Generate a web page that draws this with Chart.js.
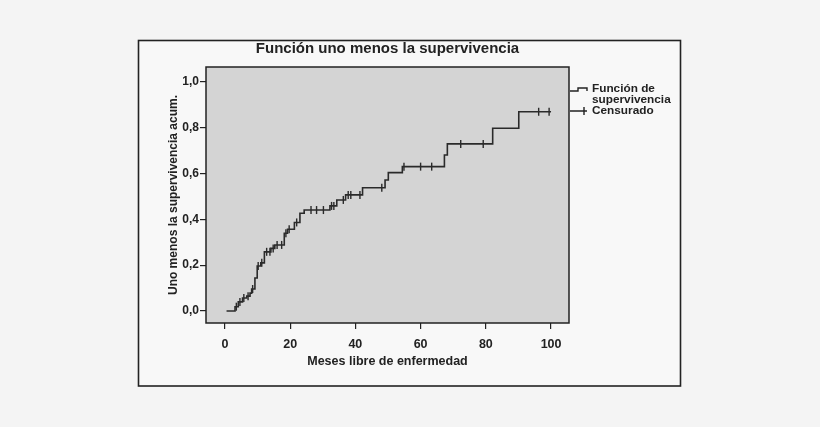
<!DOCTYPE html>
<html lang="es">
<head>
<meta charset="utf-8">
<title>Función uno menos la supervivencia</title>
<script src="https://cdn.jsdelivr.net/npm/chart.js@4.4.1/dist/chart.umd.min.js"></script>
<style>
  html, body { margin: 0; padding: 0; background: #f4f4f4; }
  #wrap { width: 820px; height: 427px; position: relative; }
</style>
</head>
<body>
<div id="wrap"><canvas id="chartKM"></canvas></div>
<script>
// ===== データ =====
// curva escalonada (tiempo del evento, valor tras el salto)
const curveTimes  = [0.5, 3.1, 4.1, 5.4, 6.7, 7.7, 8.2, 9.2, 9.9, 11.0, 12.1, 14.1, 15.3, 18.2, 19.2, 21.3, 23.0, 24.3,
                     32.2, 34.3, 37.0, 42.2, 49.1, 50.1, 54.4, 67.3, 68.2, 82.1, 90.1, 100];
const curveValues = [0, 0.019, 0.04, 0.057, 0.065, 0.078, 0.096, 0.144, 0.196, 0.21, 0.258, 0.273, 0.288, 0.339, 0.356,
                     0.386, 0.426, 0.44, 0.458, 0.484, 0.506, 0.537, 0.571, 0.603, 0.629, 0.68, 0.728, 0.796, 0.868, 0.868];

// casos censurados
const censorTimes  = [3.5, 4.6, 5.8, 7.1, 8.5, 10.2, 11.3, 12.8, 13.8, 14.8, 16.0, 17.4, 18.7, 19.7, 22.0, 26.4, 28.1,
                      30.2, 32.7, 33.4, 36.3, 37.8, 38.6, 41.4, 48.1, 54.9, 60.0, 63.4, 72.3, 79.2, 96.2, 99.4];
const censorValues = [0.019, 0.04, 0.057, 0.065, 0.096, 0.196, 0.21, 0.258, 0.258, 0.273, 0.288, 0.288, 0.339, 0.356,
                      0.386, 0.44, 0.44, 0.44, 0.458, 0.458, 0.484, 0.506, 0.506, 0.506, 0.537, 0.629, 0.629, 0.629,
                      0.728, 0.728, 0.868, 0.868];

const xTicks = [0, 20, 40, 60, 80, 100];
const yTicks = [0, 0.2, 0.4, 0.6, 0.8, 1.0];

const FONT = "'Liberation Sans', Arial, sans-serif";
const INK = '#222';

// ===== 背景・枠・凡例 =====
const frame = {
  id: 'frame',
  beforeDraw(chart) {
    const { ctx, chartArea: a } = chart;
    ctx.save();
    ctx.fillStyle = '#f4f4f4';
    ctx.fillRect(0, 0, chart.width, chart.height);
    ctx.fillStyle = '#f8f8f8';
    ctx.fillRect(138.5, 40.5, 542, 345.5);
    ctx.strokeStyle = INK;
    ctx.lineWidth = 1.6;
    ctx.strokeRect(138.5, 40.5, 542, 345.5);
    ctx.fillStyle = '#d4d4d4';
    ctx.fillRect(a.left, a.top, a.right - a.left, a.bottom - a.top);
    ctx.restore();
  },
  afterDraw(chart) {
    const { ctx, chartArea: a } = chart;
    ctx.save();
    ctx.strokeStyle = INK;
    ctx.lineWidth = 1.5;
    ctx.strokeRect(a.left, a.top, a.right - a.left, a.bottom - a.top);

    // leyenda
    const x0 = a.right + 1;
    ctx.lineWidth = 1.4;
    ctx.beginPath();
    ctx.moveTo(x0, 91); ctx.lineTo(x0 + 8, 91); ctx.lineTo(x0 + 8, 88);
    ctx.lineTo(x0 + 17, 88); ctx.lineTo(x0 + 17, 91);
    ctx.stroke();
    ctx.beginPath();
    ctx.moveTo(x0, 111); ctx.lineTo(x0 + 17, 111);
    ctx.moveTo(x0 + 14, 107); ctx.lineTo(x0 + 14, 115);
    ctx.stroke();

    ctx.fillStyle = INK;
    ctx.font = 'bold 11.8px ' + FONT;
    ctx.textBaseline = 'middle';
    ctx.textAlign = 'left';
    ctx.fillText('Función de', 592, 89);
    ctx.fillText('supervivencia', 592, 100);
    ctx.fillText('Censurado', 592, 111);
    ctx.restore();
  }
};

function initKM() {
  const ctx = document.getElementById('chartKM');

  new Chart(ctx, {
    type: 'line',
    data: {
      datasets: [
        {
          label: 'Función de supervivencia',
          data: curveTimes.map((t, i) => ({ x: t, y: curveValues[i] })),
          stepped: 'before',
          borderColor: '#2a2a2a',
          borderWidth: 1.6,
          pointRadius: 0,
          fill: false,
        },
        {
          label: 'Censurado',
          data: censorTimes.map((t, i) => ({ x: t, y: censorValues[i] })),
          showLine: false,
          pointStyle: 'line',
          rotation: 90,
          pointRadius: 4,
          pointBorderWidth: 1.4,
          borderColor: '#2a2a2a',
          pointBorderColor: '#2a2a2a',
        },
      ]
    },
    options: {
      responsive: true,
      maintainAspectRatio: false,
      animation: false,
      layout: { padding: { left: 162, right: 251, top: 38, bottom: 54 } },
      plugins: {
        legend: { display: false },
        tooltip: { enabled: false },
        title: {
          display: true,
          text: 'Función uno menos la supervivencia',
          fullSize: false,
          color: INK,
          font: { family: FONT, size: 15, weight: 'bold' },
          padding: { top: 2, bottom: 9 }
        }
      },
      scales: {
        x: {
          type: 'linear',
          min: -5.8, max: 105.5,
          afterBuildTicks: s => { s.ticks = xTicks.map(v => ({ value: v })); },
          afterFit: s => { s.height = 50; },
          grid: { drawOnChartArea: false, drawTicks: true, tickLength: 6, color: INK, lineWidth: 1.2 },
          border: { display: false },
          ticks: { color: INK, padding: 8, font: { family: FONT, size: 12.5, weight: 'bold' } },
          title: {
            display: true,
            text: 'Meses libre de enfermedad',
            color: INK,
            font: { family: FONT, size: 12.5, weight: 'bold' },
            padding: { top: 2, bottom: 4 }
          }
        },
        y: {
          type: 'linear',
          min: -0.052, max: 1.063,
          afterBuildTicks: s => { s.ticks = yTicks.map(v => ({ value: v })); },
          afterFit: s => { s.width = 44; },
          grid: { drawOnChartArea: false, drawTicks: true, tickLength: 6, color: INK, lineWidth: 1.2 },
          border: { display: false },
          ticks: {
            color: INK, padding: 1,
            font: { family: FONT, size: 12, weight: 'bold' },
            callback: v => v.toFixed(1).replace('.', ',')
          },
          title: {
            display: true,
            text: 'Uno menos la supervivencia acum.',
            color: INK,
            font: { family: FONT, size: 12, weight: 'bold' },
            padding: { top: 4, bottom: 4 }
          }
        }
      }
    },
    plugins: [frame]
  });
}

document.addEventListener('DOMContentLoaded', initKM);
</script>
</body>
</html>
